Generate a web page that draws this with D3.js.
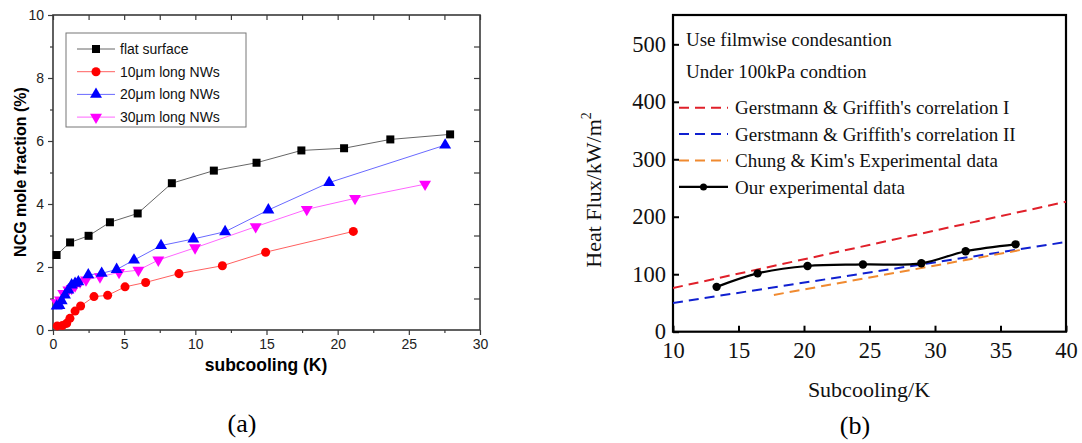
<!DOCTYPE html>
<html>
<head>
<meta charset="utf-8">
<script src="https://cdn.jsdelivr.net/npm/d3@7"></script>
<style>
  body { margin: 0; background: #fff; }
  svg { display: block; }
</style>
</head>
<body>
<div class="canvas"></div>
<script>
// ---- panel (a) data ----
const flatX = [0.25, 1.2, 2.5, 4.0, 5.95, 8.35, 11.3, 14.3, 17.45, 20.45, 23.7, 27.9];
const flatY = [2.38, 2.78, 2.99, 3.42, 3.70, 4.66, 5.06, 5.31, 5.70, 5.77, 6.05, 6.21];
const nw10X = [0.3, 0.66, 0.96, 1.19, 1.55, 1.94, 2.88, 3.84, 5.06, 6.51, 8.85, 11.9, 14.94, 21.1];
const nw10Y = [0.13, 0.14, 0.21, 0.37, 0.60, 0.76, 1.06, 1.10, 1.37, 1.51, 1.79, 2.04, 2.47, 3.13];
const nw20X = [0.26, 0.45, 0.61, 0.84, 1.08, 1.31, 1.55, 1.78, 2.48, 3.42, 4.47, 5.69, 7.59, 9.86, 12.09, 15.13, 19.4, 27.55];
const nw20Y = [0.76, 0.78, 0.93, 1.11, 1.27, 1.43, 1.48, 1.53, 1.75, 1.80, 1.92, 2.22, 2.68, 2.89, 3.12, 3.81, 4.68, 5.87];
const nw30X = [0.26, 0.49, 0.72, 1.08, 1.31, 1.55, 1.9, 2.32, 3.30, 4.64, 6.0, 7.4, 9.98, 14.24, 17.83, 21.22, 26.14];
const nw30Y = [0.87, 0.95, 1.16, 1.27, 1.32, 1.40, 1.53, 1.59, 1.69, 1.83, 1.90, 2.22, 2.61, 3.28, 3.83, 4.18, 4.63];
const seriesNamesA = ['flat surface', '10\u03bcm long NWs', '20\u03bcm long NWs', '30\u03bcm long NWs'];
const xTicksA = [0, 5, 10, 15, 20, 25, 30];
const yTicksA = [0, 2, 4, 6, 8, 10];

// ---- panel (b) data ----
const ggIX = [10, 40], ggIY = [76, 226];
const ggIIX = [10, 40], ggIIY = [50, 156];
const chungX = [17.7, 36.5], chungY = [64, 142];
const ourX = [13.33, 16.46, 20.27, 24.5, 28.96, 32.34, 36.15];
const ourY = [78, 101.5, 114.3, 117, 119, 140, 152];
const seriesNamesB = ["Gerstmann & Griffith's correlation I", "Gerstmann & Griffith's correlation II",
  "Chung & Kim's Experimental data", "Our experimental data"];
const notesB = ['Use filmwise condesantion', 'Under 100kPa condtion'];
const xTicksB = [10, 15, 20, 25, 30, 35, 40];
const yTicksB = [0, 100, 200, 300, 400, 500];

const width = 1082, height = 443;
const zip = (xs, ys) => xs.map((x, i) => ({ x: x, y: ys[i] }));

let svg = d3.select('.canvas').append('svg')
  .attr('width', width).attr('height', height);

// ================= panel (a) =================
const A = { left: 53, right: 480, top: 15, bottom: 330 };
const sansA = 'Liberation Sans, Arial, sans-serif';
let xA = d3.scaleLinear().domain([0, 30]).range([A.left, A.right]);
let yA = d3.scaleLinear().domain([0, 10]).range([A.bottom, A.top]);
let gA = svg.append('g').attr('class', 'panel-a');
const frameA = '#3a3a3a';

// axes
gA.append('g').attr('transform', `translate(0,${A.bottom})`)
  .call(d3.axisBottom(xA).tickValues(xTicksA).tickSize(5).tickPadding(4))
  .call(g => g.select('.domain').remove());
gA.append('g').attr('transform', `translate(0,${A.bottom})`)
  .call(d3.axisBottom(xA).tickValues([2.5, 7.5, 12.5, 17.5, 22.5, 27.5]).tickSize(3).tickFormat(''))
  .call(g => g.select('.domain').remove());
gA.append('g').attr('transform', `translate(0,${A.top})`)
  .call(d3.axisBottom(xA).tickValues(xTicksA.concat([2.5, 7.5, 12.5, 17.5, 22.5, 27.5])).tickSize(5).tickFormat(''))
  .call(g => g.select('.domain').remove());
gA.append('g').attr('transform', `translate(${A.left},0)`)
  .call(d3.axisLeft(yA).tickValues(yTicksA).tickSize(5).tickPadding(4))
  .call(g => g.select('.domain').remove());
gA.append('g').attr('transform', `translate(${A.left},0)`)
  .call(d3.axisLeft(yA).tickValues([1, 3, 5, 7, 9]).tickSize(3).tickFormat(''))
  .call(g => g.select('.domain').remove());
gA.append('g').attr('transform', `translate(${A.right},0)`)
  .call(d3.axisLeft(yA).tickValues(d3.range(1, 10)).tickSize(6).tickFormat(''))
  .call(g => g.select('.domain').remove());
gA.selectAll('.tick line').attr('stroke', frameA).attr('stroke-width', 1.2);
gA.selectAll('.tick text').attr('font-family', sansA).attr('font-size', 14).attr('fill', '#222');

gA.append('rect')
  .attr('x', A.left).attr('y', A.top)
  .attr('width', A.right - A.left).attr('height', A.bottom - A.top)
  .attr('fill', 'none').attr('stroke', frameA).attr('stroke-width', 1.6);

gA.append('text')
  .attr('x', 266).attr('y', 371)
  .attr('text-anchor', 'middle')
  .attr('font-family', sansA).attr('font-weight', 'bold').attr('font-size', 17.5)
  .text('subcooling (K)');
gA.append('text')
  .attr('transform', 'translate(26,172) rotate(-90)')
  .attr('text-anchor', 'middle')
  .attr('font-family', sansA).attr('font-weight', 'bold').attr('font-size', 16)
  .text('NCG mole fraction (%)');

const colorsA = ['#000000', '#ff0000', '#0000ff', '#ff00ff'];
const lineColorsA = ['#666666', '#ff6060', '#6a6aff', '#ff66ff'];
const seriesA = [zip(flatX, flatY), zip(nw10X, nw10Y), zip(nw20X, nw20Y), zip(nw30X, nw30Y)];
const symbolsA = [d3.symbolSquare, d3.symbolCircle, d3.symbolTriangle, d3.symbolTriangle];
const symSizeA = [64, 64, 62, 62];
const symRotA = [0, 0, 0, 180];

let lineA = d3.line().x(d => xA(d.x)).y(d => yA(d.y));

function drawMarker(g, i, cx, cy) {
  g.append('path')
    .attr('d', d3.symbol().type(symbolsA[i]).size(symSizeA[i])())
    .attr('transform', `translate(${cx},${cy}) rotate(${symRotA[i]})`)
    .attr('fill', colorsA[i]);
}

seriesA.forEach((data, i) => {
  gA.append('path')
    .datum(data)
    .attr('d', lineA)
    .attr('fill', 'none')
    .attr('stroke', lineColorsA[i])
    .attr('stroke-width', 1);
});
// markers; 30um before 20um so the overlap looks like the original
[0, 1, 3, 2].forEach(i => {
  seriesA[i].forEach(d => drawMarker(gA, i, xA(d.x), yA(d.y)));
});

// legend (a)
let legA = gA.append('g').attr('class', 'legend');
legA.append('rect')
  .attr('x', 66).attr('y', 33).attr('width', 180).attr('height', 94)
  .attr('fill', '#fff').attr('stroke', '#777').attr('stroke-width', 1);
seriesNamesA.forEach((name, i) => {
  let yy = 49 + i * 22.7;
  legA.append('line')
    .attr('x1', 77).attr('x2', 115).attr('y1', yy).attr('y2', yy)
    .attr('stroke', lineColorsA[i]).attr('stroke-width', 1);
  drawMarker(legA, i, 96, yy);
  legA.append('text')
    .attr('x', 120).attr('y', yy).attr('dy', '0.35em')
    .attr('font-family', sansA).attr('font-size', 14).attr('fill', '#111')
    .text(name);
});

// ================= panel (b) =================
const B = { left: 673, right: 1066, top: 15, bottom: 331.7 };
const serif = 'Liberation Serif, Times New Roman, serif';
let xB = d3.scaleLinear().domain([10, 40]).range([B.left, B.right]);
let yB = d3.scaleLinear().domain([0, 551]).range([B.bottom, B.top]);
let gB = svg.append('g').attr('class', 'panel-b');

gB.append('g').attr('transform', `translate(0,${B.bottom})`)
  .call(d3.axisBottom(xB).tickValues(xTicksB).tickSizeInner(-6).tickSizeOuter(0).tickPadding(10))
  .call(g => g.select('.domain').remove());
gB.append('g').attr('transform', `translate(${B.left},0)`)
  .call(d3.axisLeft(yB).tickValues(yTicksB).tickSizeInner(-6).tickSizeOuter(0).tickPadding(7))
  .call(g => g.select('.domain').remove());
gB.selectAll('.tick line').attr('stroke', '#000').attr('stroke-width', 2);
gB.selectAll('.tick text').attr('font-family', serif).attr('font-size', 22.5).attr('fill', '#111');

gB.append('rect')
  .attr('x', B.left).attr('y', B.top)
  .attr('width', B.right - B.left).attr('height', B.bottom - B.top)
  .attr('fill', 'none').attr('stroke', '#000').attr('stroke-width', 2.2);

gB.append('text')
  .attr('x', 869).attr('y', 397)
  .attr('text-anchor', 'middle')
  .attr('font-family', serif).attr('font-size', 22).attr('fill', '#111')
  .text('Subcooling/K');
let yLab = gB.append('text')
  .attr('transform', 'translate(601,190) rotate(-90)')
  .attr('text-anchor', 'middle')
  .attr('font-family', serif).attr('font-size', 22).attr('fill', '#111');
yLab.append('tspan').text('Heat Flux/kW/m');
yLab.append('tspan').attr('font-size', 14).attr('dy', -10).text('2');

const dashColorsB = ['#e0202a', '#1020d0', '#f08a30'];
const dashedB = [zip(ggIX, ggIY), zip(ggIIX, ggIIY), zip(chungX, chungY)];
let lineB = d3.line().x(d => xB(d.x)).y(d => yB(d.y));
gB.append('clipPath').attr('id', 'clipB')
  .append('rect').attr('x', B.left).attr('y', B.top)
  .attr('width', B.right - B.left).attr('height', B.bottom - B.top);
dashedB.forEach((data, i) => {
  gB.append('path')
    .datum(data)
    .attr('d', lineB)
    .attr('clip-path', 'url(#clipB)')
    .attr('fill', 'none')
    .attr('stroke', dashColorsB[i])
    .attr('stroke-width', 2)
    .attr('stroke-dasharray', '10,6');
});
const ourData = zip(ourX, ourY);
gB.append('path')
  .datum(ourData)
  .attr('d', d3.line().x(d => xB(d.x)).y(d => yB(d.y)).curve(d3.curveCatmullRom.alpha(0.5)))
  .attr('fill', 'none').attr('stroke', '#000').attr('stroke-width', 2.2);
gB.selectAll('.our-pt')
  .data(ourData)
  .enter()
  .append('circle')
  .attr('class', 'our-pt')
  .attr('cx', d => xB(d.x)).attr('cy', d => yB(d.y))
  .attr('r', 4.2).attr('fill', '#000');

// notes + legend (b)
notesB.forEach((t, i) => {
  gB.append('text')
    .attr('x', 686).attr('y', 39 + i * 32.5).attr('dy', '0.35em')
    .attr('font-family', serif).attr('font-size', 19).attr('fill', '#111')
    .text(t);
});
seriesNamesB.forEach((name, i) => {
  let yy = 107.7 + i * 26.4;
  let ln = gB.append('line')
    .attr('x1', 679).attr('x2', 728).attr('y1', yy).attr('y2', yy)
    .attr('stroke-width', 2);
  if (i < 3) {
    ln.attr('stroke', dashColorsB[i]).attr('stroke-dasharray', '10,6');
  } else {
    ln.attr('stroke', '#000').attr('stroke-width', 2.2);
    gB.append('circle').attr('cx', 703.5).attr('cy', yy).attr('r', 3.5).attr('fill', '#000');
  }
  gB.append('text')
    .attr('x', 735).attr('y', yy).attr('dy', '0.35em')
    .attr('font-family', serif).attr('font-size', 19).attr('fill', '#111')
    .text(name);
});

// captions
svg.append('text').attr('x', 242).attr('y', 423).attr('dy', '0.35em')
  .attr('text-anchor', 'middle').attr('font-family', serif).attr('font-size', 26)
  .text('(a)');
svg.append('text').attr('x', 855).attr('y', 425).attr('dy', '0.35em')
  .attr('text-anchor', 'middle').attr('font-family', serif).attr('font-size', 26)
  .text('(b)');
</script>
</body>
</html>
